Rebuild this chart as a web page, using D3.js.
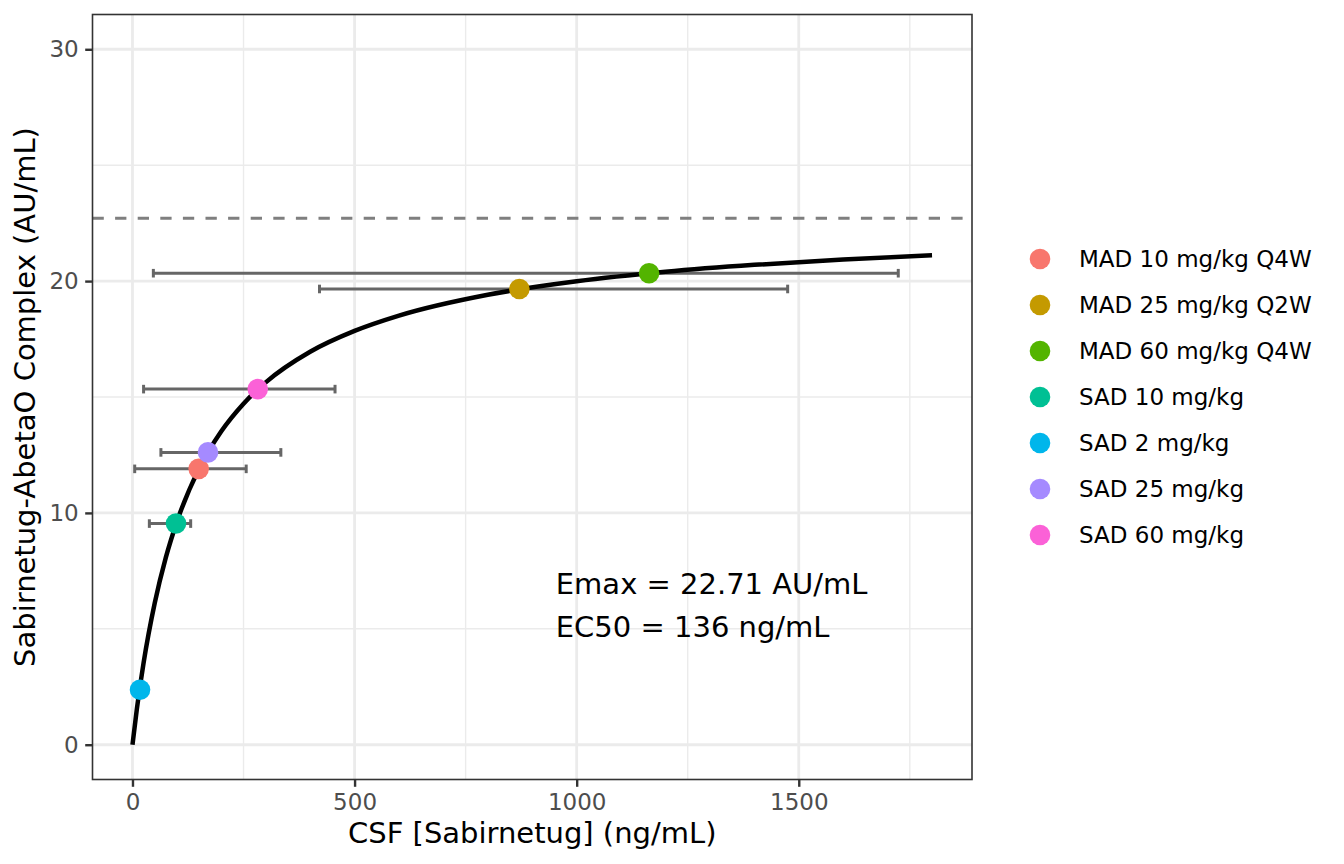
<!DOCTYPE html>
<meta charset="utf-8">
<script src="https://d3js.org/d3.v7.min.js"></script>
<style>
  body { margin: 0; background: #fff; }
  text { font-family: "DejaVu Sans", sans-serif; }
</style>
<svg id="chart"></svg>
<script>
// data
var groups = ["MAD 10 mg/kg Q4W", "MAD 25 mg/kg Q2W", "MAD 60 mg/kg Q4W",
              "SAD 10 mg/kg", "SAD 2 mg/kg", "SAD 25 mg/kg", "SAD 60 mg/kg"];
var groupColors = ["#F8766D", "#C49A00", "#53B400", "#00C094", "#00B6EB", "#A58AFF", "#FB61D7"];
var conc = [149, 871, 1163, 98, 17, 170, 282];
var resp = [11.9, 19.66, 20.34, 9.54, 2.37, 12.61, 15.34];
var concLow = [5, 421, 47, 38, null, 64, 25];
var concHigh = [256, 1475, 1724, 131, null, 334, 456];

// fitted curve, sampled from the plot
var curveX = [0, 10, 25, 50, 75, 100, 150, 200, 250, 300, 400, 500, 600, 800, 1000, 1200, 1400, 1600, 1800];
var curveY = [0, 1.56, 3.53, 6.10, 8.07, 9.62, 11.91, 13.52, 14.71, 15.63, 16.95, 17.85, 18.51, 19.41, 19.99, 20.40, 20.70, 20.93, 21.11];

var emaxLine = 22.71;
var annotation = ["Emax = 22.71 AU/mL", "EC50 = 136 ng/mL"];
var xTicks = [0, 500, 1000, 1500];
var xMinor = [250, 750, 1250, 1750];
var yTicks = [0, 10, 20, 30];
var yMinor = [5, 15, 25];

var width = 1344, height = 864;
var svg = d3.select("#chart").attr("width", width).attr("height", height);
svg.append("rect").attr("width", width).attr("height", height).attr("fill", "#fff");

var panel = { left: 92.5, right: 972, top: 14.5, bottom: 779.5 };

var x = d3.scaleLinear().domain([-90, 1890]).range([panel.left, panel.right]);
var y = d3.scaleLinear().domain([-1.5, 31.5]).range([panel.bottom, panel.top]);

var g = svg.append("g");

// grid
g.selectAll(".xminor").data(xMinor).enter().append("line")
  .attr("x1", d => x(d)).attr("x2", d => x(d))
  .attr("y1", panel.top).attr("y2", panel.bottom)
  .attr("stroke", "#EBEBEB").attr("stroke-width", 1.4);
g.selectAll(".yminor").data(yMinor).enter().append("line")
  .attr("y1", d => y(d)).attr("y2", d => y(d))
  .attr("x1", panel.left).attr("x2", panel.right)
  .attr("stroke", "#EBEBEB").attr("stroke-width", 1.4);
g.selectAll(".xmajor").data(xTicks).enter().append("line")
  .attr("x1", d => x(d)).attr("x2", d => x(d))
  .attr("y1", panel.top).attr("y2", panel.bottom)
  .attr("stroke", "#EBEBEB").attr("stroke-width", 2.8);
g.selectAll(".ymajor").data(yTicks).enter().append("line")
  .attr("y1", d => y(d)).attr("y2", d => y(d))
  .attr("x1", panel.left).attr("x2", panel.right)
  .attr("stroke", "#EBEBEB").attr("stroke-width", 2.8);

// Emax reference line
g.append("line")
  .attr("x1", panel.left).attr("x2", panel.right)
  .attr("y1", y(emaxLine)).attr("y2", y(emaxLine))
  .attr("stroke", "#7F7F7F").attr("stroke-width", 2.8)
  .attr("stroke-dasharray", "11.3,11.3");

// error bars
var pts = groups.map(function (name, i) {
  return { name: name, color: groupColors[i], x: conc[i], y: resp[i], lo: concLow[i], hi: concHigh[i] };
});
var bars = g.append("g").selectAll("g").data(pts.filter(d => d.lo != null)).enter().append("g")
  .attr("stroke", "#666666").attr("stroke-width", 3);
bars.append("line")
  .attr("x1", d => x(d.lo)).attr("x2", d => x(d.hi))
  .attr("y1", d => y(d.y)).attr("y2", d => y(d.y));
bars.append("line")
  .attr("x1", d => x(d.lo)).attr("x2", d => x(d.lo))
  .attr("y1", d => y(d.y) - 4.3).attr("y2", d => y(d.y) + 4.3);
bars.append("line")
  .attr("x1", d => x(d.hi)).attr("x2", d => x(d.hi))
  .attr("y1", d => y(d.y) - 4.3).attr("y2", d => y(d.y) + 4.3);

// fitted curve
var line = d3.line().x(d => x(d[0])).y(d => y(d[1])).curve(d3.curveMonotoneX);
g.append("path")
  .datum(d3.zip(curveX, curveY))
  .attr("d", line)
  .attr("fill", "none").attr("stroke", "#000").attr("stroke-width", 4.5);

// points
g.append("g").selectAll("circle").data(pts).enter().append("circle")
  .attr("cx", d => x(d.x)).attr("cy", d => y(d.y)).attr("r", 10.3)
  .attr("fill", d => d.color);

// annotation
g.append("g").selectAll("text").data(annotation).enter().append("text")
  .attr("x", x(953)).attr("y", (d, i) => 594 + i * 43)
  .attr("font-size", 29).attr("fill", "#000").text(d => d);

// panel border
svg.append("rect")
  .attr("x", panel.left).attr("y", panel.top)
  .attr("width", panel.right - panel.left).attr("height", panel.bottom - panel.top)
  .attr("fill", "none").attr("stroke", "#333333").attr("stroke-width", 1.6);

// axes
var xAxis = svg.append("g").attr("transform", "translate(0," + panel.bottom + ")")
  .call(d3.axisBottom(x).tickValues(xTicks).tickFormat(d3.format("d")).tickSize(7.3).tickPadding(6.5));
var yAxis = svg.append("g").attr("transform", "translate(" + panel.left + ",0)")
  .call(d3.axisLeft(y).tickValues(yTicks).tickFormat(d3.format("d")).tickSize(7.3).tickPadding(6.5));
[xAxis, yAxis].forEach(function (a) {
  a.select(".domain").remove();
  a.selectAll(".tick line").attr("stroke", "#333333").attr("stroke-width", 2.4);
  a.selectAll(".tick text").attr("fill", "#4D4D4D").attr("font-size", 23)
    .attr("font-family", "DejaVu Sans");
});

// axis titles
svg.append("text")
  .attr("x", (panel.left + panel.right) / 2).attr("y", 843)
  .attr("text-anchor", "middle").attr("font-size", 29)
  .text("CSF [Sabirnetug] (ng/mL)");
svg.append("text")
  .attr("transform", "translate(35," + ((panel.top + panel.bottom) / 2) + ") rotate(-90)")
  .attr("text-anchor", "middle").attr("font-size", 29)
  .text("Sabirnetug-AbetaO Complex (AU/mL)");

// legend
var legend = svg.append("g").selectAll("g").data(pts).enter().append("g")
  .attr("transform", (d, i) => "translate(1040," + (259 + i * 46) + ")");
legend.append("circle").attr("r", 10.3).attr("fill", d => d.color);
legend.append("text").attr("x", 39).attr("dy", "0.35em")
  .attr("font-size", 23).attr("fill", "#000").text(d => d.name);
</script>
